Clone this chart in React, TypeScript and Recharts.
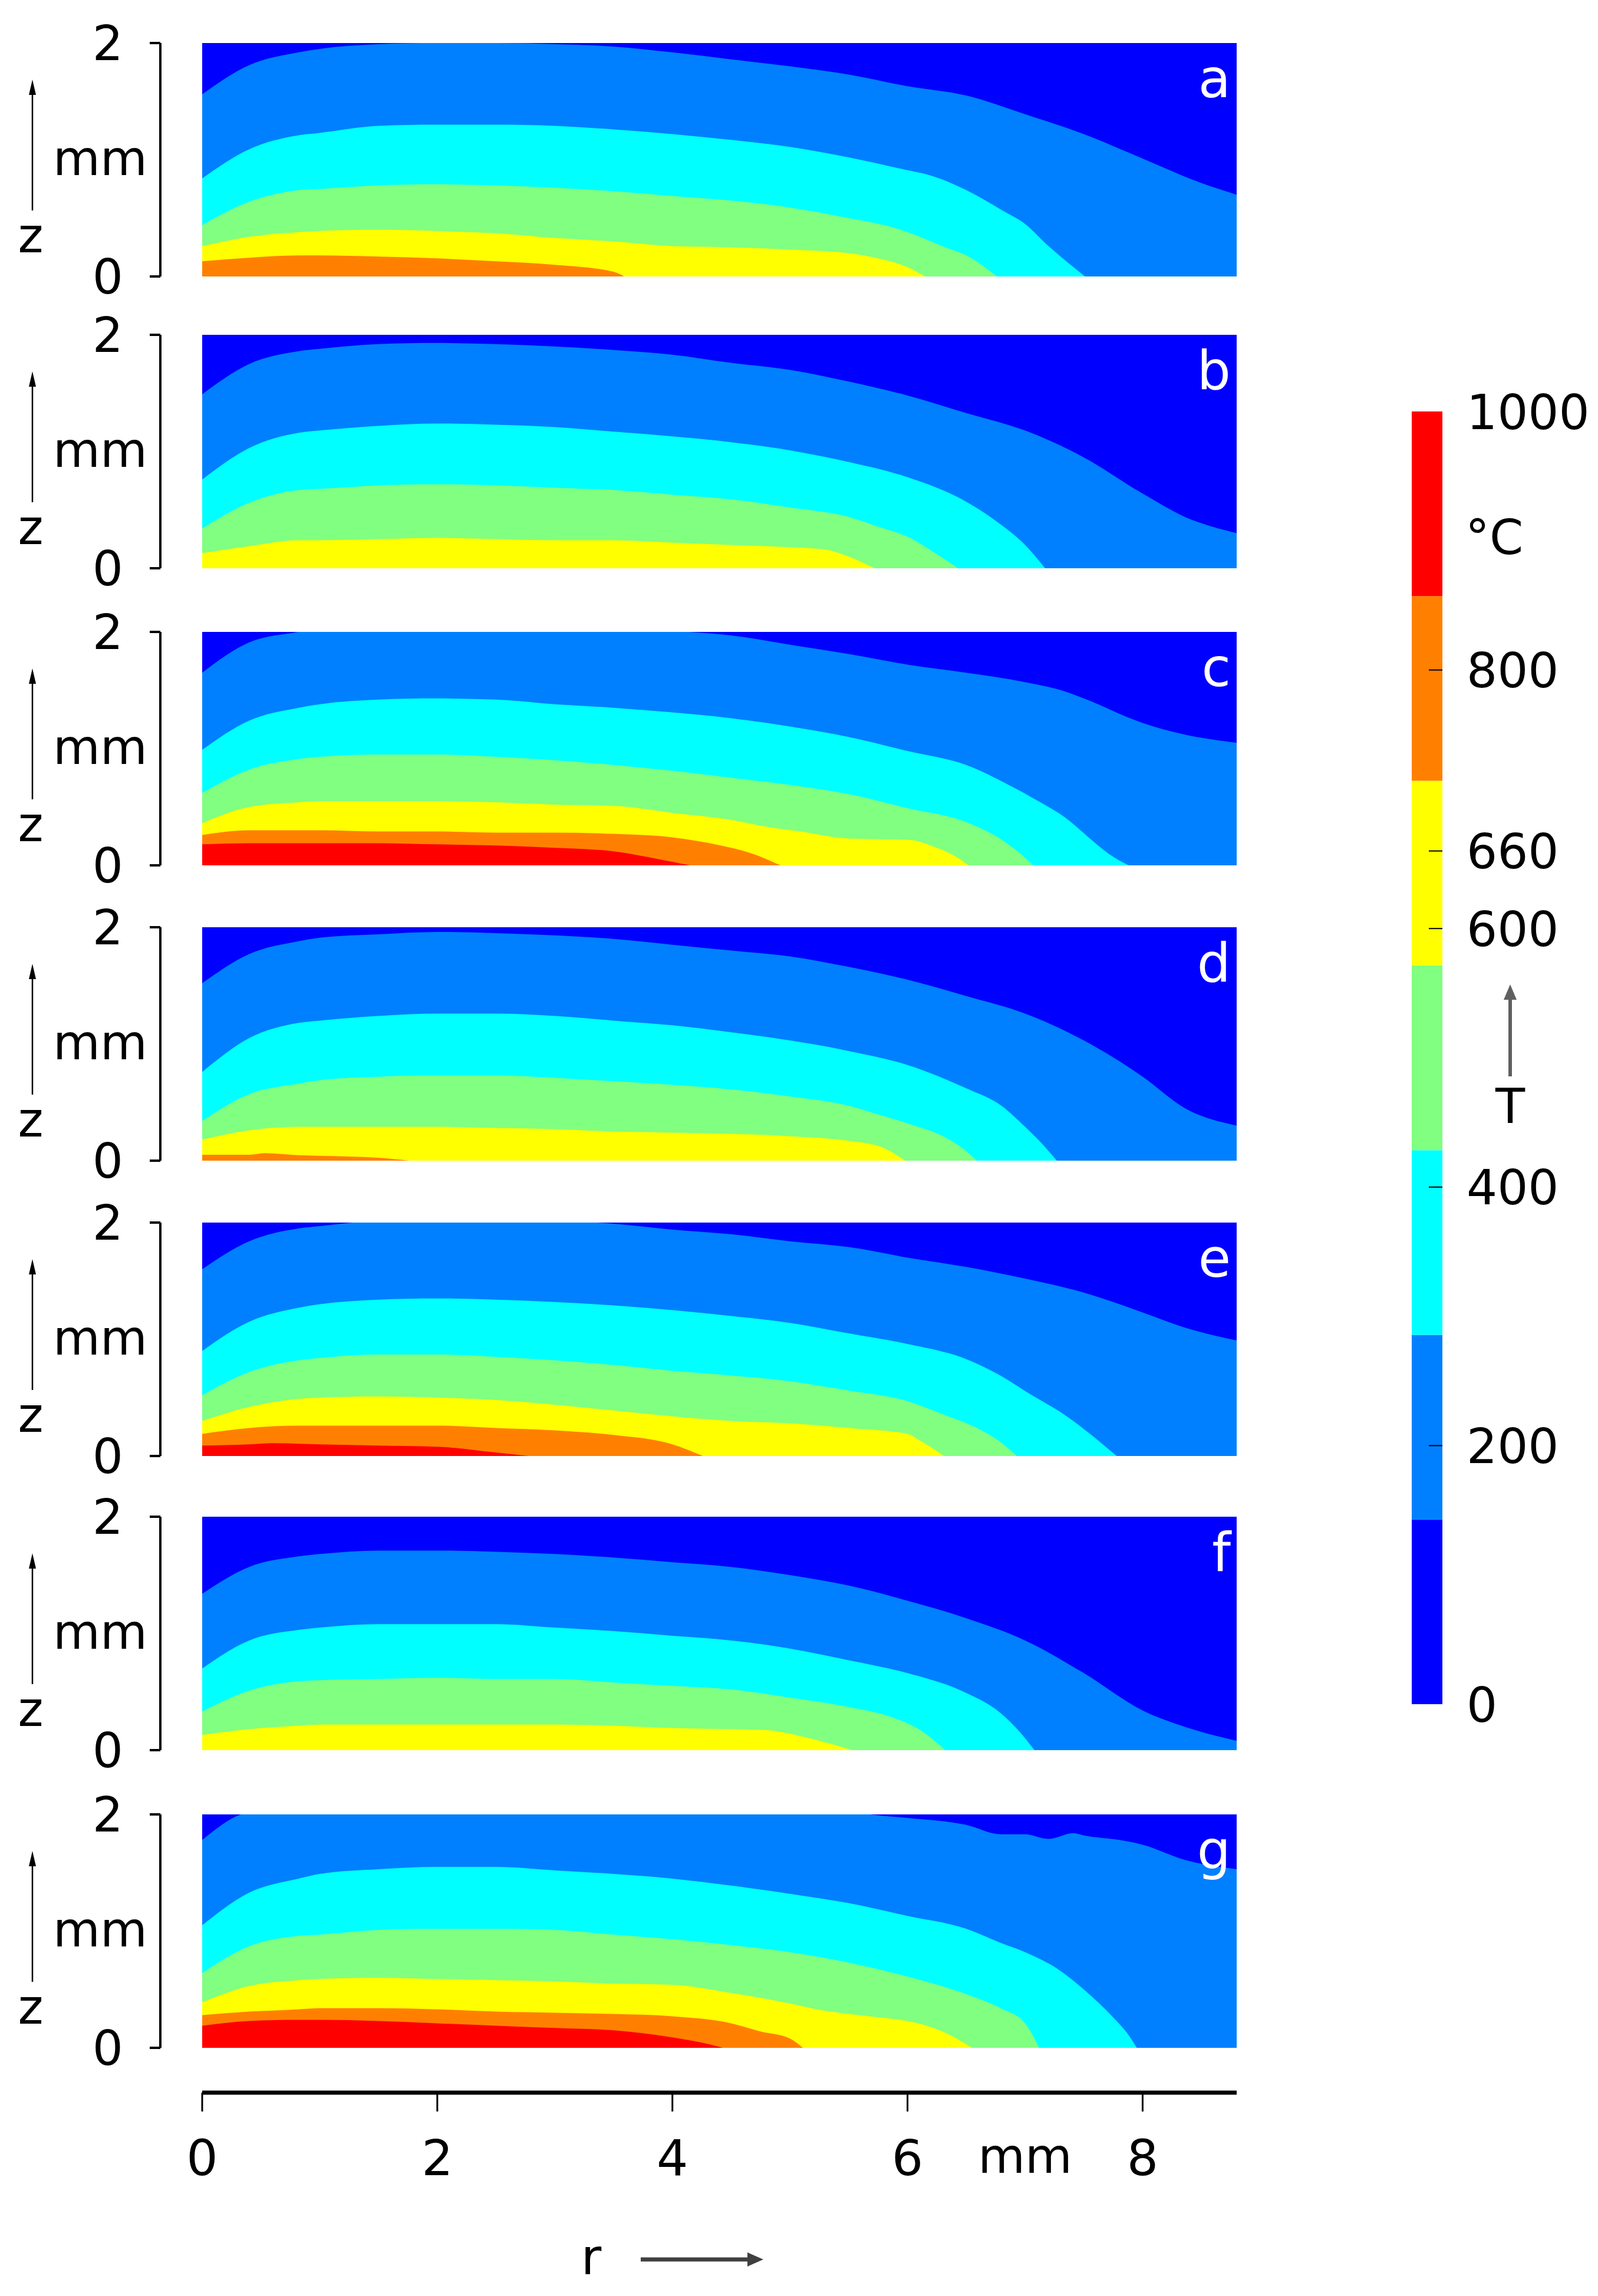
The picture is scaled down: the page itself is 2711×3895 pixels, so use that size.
import React from 'react';
import { ComposedChart, Area, XAxis, YAxis, CartesianGrid, BarChart, Bar } from 'recharts';

const FONT = '"DejaVu Sans", Verdana, sans-serif';

// 7-level jet palette, coldest first
const JET = ['#0000FF', '#0080FF', '#00FFFF', '#80FF80', '#FFFF00', '#FF8000', '#FF0000'];

// colour bar (°C)
const CB_LEVELS = [0, 142.86, 285.71, 428.57, 571.43, 714.29, 857.14, 1000];
const CB_TICKS = [0, 200, 400, 600, 660, 800, 1000];

// r axis (mm)
const R_TICKS = [0, 2, 4, 6, 8];
const R_UNIT_AT = 7;
const Z_TICKS = [0, 2];

type Pt = [number, number];

// isotherm heights z (mm) against r (mm); one list per colour boundary, warmer last
const A_ISO: Pt[][] = [
  [[0, 1.56], [0.4, 1.81], [0.82, 1.92], [1, 1.95], [1.5, 1.99], [2, 2.0], [2.5, 2.0], [3, 1.99], [3.5, 1.97], [4, 1.92], [4.5, 1.86], [5, 1.8], [5.5, 1.73], [6, 1.63], [6.5, 1.55], [7, 1.39], [7.5, 1.22], [8, 1.01], [8.5, 0.8], [8.8, 0.7]],
  [[0, 0.84], [0.4, 1.09], [0.82, 1.21], [1, 1.23], [1.5, 1.29], [2, 1.3], [2.5, 1.3], [3, 1.29], [3.5, 1.26], [4, 1.22], [4.5, 1.17], [5, 1.11], [5.5, 1.02], [6, 0.91], [6.18, 0.87], [6.5, 0.74], [6.8, 0.57], [7, 0.45], [7.2, 0.26], [7.51, 0]],
  [[0, 0.44], [0.4, 0.64], [0.82, 0.74], [1, 0.75], [1.5, 0.78], [2, 0.79], [2.5, 0.78], [3, 0.76], [3.5, 0.73], [4, 0.69], [4.5, 0.65], [5, 0.59], [5.5, 0.5], [5.84, 0.43], [6, 0.38], [6.32, 0.25], [6.5, 0.18], [6.76, 0]],
  [[0, 0.26], [0.4, 0.34], [0.82, 0.38], [1, 0.39], [1.5, 0.4], [2, 0.39], [2.5, 0.37], [3, 0.33], [3.5, 0.3], [4, 0.26], [4.5, 0.25], [5, 0.23], [5.5, 0.2], [5.77, 0.15], [6, 0.08], [6.15, 0]],
  [[0, 0.13], [0.4, 0.16], [0.82, 0.18], [1, 0.18], [1.5, 0.17], [2, 0.155], [2.5, 0.13], [3, 0.1], [3.5, 0.04], [3.59, 0]],
  [],
];

const B_ISO: Pt[][] = [
  [[0, 1.49], [0.4, 1.75], [0.82, 1.86], [1, 1.88], [1.5, 1.92], [2, 1.93], [2.5, 1.92], [3, 1.9], [3.5, 1.87], [4, 1.83], [4.5, 1.76], [5, 1.7], [5.5, 1.6], [6, 1.48], [6.5, 1.33], [7, 1.18], [7.5, 0.95], [8, 0.64], [8.36, 0.44], [8.8, 0.3]],
  [[0, 0.76], [0.4, 1.03], [0.82, 1.16], [1, 1.18], [1.5, 1.22], [2, 1.24], [2.5, 1.23], [3, 1.21], [3.5, 1.17], [4, 1.13], [4.5, 1.08], [5, 1.01], [5.5, 0.91], [6, 0.78], [6.5, 0.57], [6.8, 0.37], [7, 0.2], [7.17, 0]],
  [[0, 0.34], [0.4, 0.56], [0.82, 0.67], [1, 0.68], [1.5, 0.71], [2, 0.72], [2.5, 0.71], [3, 0.69], [3.5, 0.67], [4, 0.63], [4.5, 0.59], [5, 0.52], [5.5, 0.44], [5.77, 0.35], [6, 0.27], [6.25, 0.12], [6.43, 0]],
  [[0, 0.13], [0.4, 0.19], [0.82, 0.24], [1, 0.24], [1.5, 0.25], [2, 0.26], [2.5, 0.25], [3, 0.24], [3.5, 0.24], [4, 0.22], [4.5, 0.2], [5, 0.18], [5.3, 0.16], [5.5, 0.1], [5.72, 0]],
  [],
  [],
];

const C_ISO: Pt[][] = [
  [[0, 1.65], [0.4, 1.91], [0.82, 2.0], [1, 2.03], [1.5, 2.07], [2, 2.09], [2.5, 2.09], [3, 2.07], [3.5, 2.05], [4, 2.01], [4.5, 1.97], [5, 1.89], [5.5, 1.81], [6, 1.72], [6.5, 1.65], [7, 1.57], [7.34, 1.49], [7.5, 1.43], [8, 1.22], [8.36, 1.12], [8.8, 1.05]],
  [[0, 0.99], [0.4, 1.24], [0.82, 1.35], [1, 1.38], [1.5, 1.42], [2, 1.43], [2.5, 1.42], [3, 1.38], [3.5, 1.35], [4, 1.31], [4.5, 1.26], [5, 1.19], [5.5, 1.1], [6, 0.98], [6.5, 0.86], [6.86, 0.69], [7.13, 0.54], [7.34, 0.41], [7.54, 0.24], [7.71, 0.1], [7.88, 0]],
  [[0, 0.62], [0.4, 0.82], [0.82, 0.91], [1, 0.93], [1.5, 0.95], [2, 0.95], [2.5, 0.93], [3, 0.9], [3.5, 0.86], [4, 0.81], [4.5, 0.75], [5, 0.69], [5.5, 0.61], [6, 0.49], [6.5, 0.37], [6.8, 0.22], [6.96, 0.1], [7.07, 0]],
  [[0, 0.36], [0.4, 0.5], [0.82, 0.54], [1, 0.55], [1.5, 0.55], [2, 0.55], [2.5, 0.54], [3, 0.52], [3.5, 0.51], [4, 0.45], [4.5, 0.39], [4.75, 0.34], [5.09, 0.29], [5.5, 0.23], [6, 0.22], [6.25, 0.15], [6.42, 0.07], [6.52, 0]],
  [[0, 0.26], [0.4, 0.3], [0.82, 0.3], [1, 0.3], [1.5, 0.29], [2, 0.29], [2.5, 0.28], [3, 0.28], [3.5, 0.27], [4, 0.24], [4.41, 0.17], [4.68, 0.1], [4.92, 0]],
  [[0, 0.18], [0.4, 0.19], [0.82, 0.19], [1, 0.19], [1.5, 0.19], [2, 0.18], [2.5, 0.17], [3, 0.15], [3.5, 0.12], [3.8, 0.07], [4, 0.03], [4.15, 0]],
];

const D_ISO: Pt[][] = [
  [[0, 1.52], [0.4, 1.77], [0.82, 1.88], [1, 1.91], [1.5, 1.94], [2, 1.96], [2.5, 1.95], [3, 1.93], [3.5, 1.9], [4, 1.85], [4.5, 1.8], [5, 1.75], [5.5, 1.66], [6, 1.55], [6.5, 1.41], [7, 1.26], [7.5, 1.03], [8, 0.72], [8.36, 0.45], [8.8, 0.3]],
  [[0, 0.76], [0.4, 1.05], [0.82, 1.18], [1, 1.2], [1.5, 1.24], [2, 1.26], [2.5, 1.26], [3, 1.24], [3.5, 1.2], [4, 1.16], [4.5, 1.1], [5, 1.03], [5.5, 0.94], [6, 0.82], [6.5, 0.62], [6.8, 0.47], [7, 0.29], [7.14, 0.15], [7.27, 0]],
  [[0, 0.34], [0.4, 0.57], [0.82, 0.66], [1, 0.69], [1.5, 0.72], [2, 0.73], [2.5, 0.73], [3, 0.71], [3.5, 0.68], [4, 0.65], [4.5, 0.61], [5, 0.55], [5.5, 0.47], [5.77, 0.39], [6, 0.32], [6.32, 0.2], [6.45, 0.12], [6.59, 0]],
  [[0, 0.18], [0.4, 0.26], [0.82, 0.29], [1, 0.29], [1.5, 0.29], [2, 0.29], [2.5, 0.28], [3, 0.27], [3.5, 0.25], [4, 0.24], [4.5, 0.23], [5, 0.21], [5.5, 0.17], [5.77, 0.12], [5.98, 0]],
  [[0, 0.05], [0.4, 0.05], [0.53, 0.064], [0.82, 0.047], [1, 0.042], [1.5, 0.025], [1.76, 0]],
  [],
];

const E_ISO: Pt[][] = [
  [[0, 1.6], [0.4, 1.84], [0.82, 1.95], [1, 1.97], [1.28, 2.0], [1.5, 2.02], [2, 2.04], [2.5, 2.04], [3, 2.02], [3.5, 1.99], [4, 1.94], [4.5, 1.9], [5, 1.84], [5.5, 1.79], [6, 1.7], [6.5, 1.62], [7, 1.52], [7.5, 1.4], [8, 1.23], [8.36, 1.1], [8.8, 0.99]],
  [[0, 0.9], [0.4, 1.15], [0.82, 1.27], [1, 1.3], [1.5, 1.34], [2, 1.35], [2.5, 1.34], [3, 1.32], [3.5, 1.29], [4, 1.25], [4.5, 1.2], [5, 1.14], [5.5, 1.05], [6, 0.96], [6.5, 0.83], [6.79, 0.69], [7.06, 0.52], [7.34, 0.35], [7.54, 0.2], [7.78, 0]],
  [[0, 0.52], [0.4, 0.72], [0.82, 0.82], [1, 0.84], [1.5, 0.87], [2, 0.87], [2.5, 0.85], [3, 0.82], [3.5, 0.78], [4, 0.73], [4.5, 0.69], [5, 0.64], [5.5, 0.56], [6, 0.47], [6.32, 0.35], [6.59, 0.24], [6.79, 0.12], [6.93, 0]],
  [[0, 0.3], [0.4, 0.42], [0.82, 0.49], [1, 0.5], [1.5, 0.51], [2, 0.5], [2.5, 0.48], [3, 0.44], [3.5, 0.39], [4, 0.34], [4.5, 0.3], [5, 0.28], [5.5, 0.24], [6, 0.19], [6.11, 0.13], [6.31, 0]],
  [[0, 0.19], [0.4, 0.24], [0.82, 0.26], [1, 0.26], [1.5, 0.26], [2, 0.26], [2.5, 0.24], [3, 0.22], [3.5, 0.18], [4, 0.1], [4.26, 0]],
  [[0, 0.09], [0.4, 0.1], [0.6, 0.11], [1, 0.1], [1.5, 0.09], [2, 0.08], [2.5, 0.03], [2.78, 0]],
];

const F_ISO: Pt[][] = [
  [[0, 1.34], [0.4, 1.57], [0.82, 1.66], [1, 1.68], [1.5, 1.71], [2, 1.71], [2.5, 1.7], [3, 1.68], [3.5, 1.65], [4, 1.61], [4.5, 1.57], [5, 1.5], [5.5, 1.41], [6, 1.28], [6.5, 1.13], [7, 0.94], [7.5, 0.66], [8, 0.34], [8.36, 0.2], [8.8, 0.08]],
  [[0, 0.7], [0.4, 0.94], [0.82, 1.03], [1, 1.05], [1.5, 1.08], [2, 1.08], [2.5, 1.08], [3, 1.05], [3.5, 1.02], [4, 0.98], [4.5, 0.94], [5, 0.87], [5.5, 0.77], [6, 0.66], [6.5, 0.49], [6.79, 0.32], [6.96, 0.15], [7.08, 0]],
  [[0, 0.33], [0.4, 0.51], [0.82, 0.59], [1, 0.6], [1.5, 0.61], [2, 0.62], [2.5, 0.61], [3, 0.61], [3.5, 0.58], [4, 0.55], [4.5, 0.52], [5, 0.45], [5.5, 0.37], [5.84, 0.29], [6.11, 0.17], [6.32, 0]],
  [[0, 0.13], [0.4, 0.18], [0.82, 0.21], [1, 0.22], [1.5, 0.22], [2, 0.22], [2.5, 0.22], [3, 0.22], [3.5, 0.21], [4, 0.19], [4.5, 0.18], [4.82, 0.17], [5.09, 0.12], [5.36, 0.05], [5.53, 0]],
  [],
  [],
];

const G_ISO: Pt[][] = [
  [[0, 1.78], [0.33, 2.0], [0.4, 2.02], [0.82, 2.06], [1, 2.08], [1.5, 2.1], [2, 2.12], [2.5, 2.12], [3, 2.12], [3.5, 2.1], [4, 2.09], [4.5, 2.07], [5, 2.05], [5.5, 2.02], [5.77, 1.99], [6, 1.97], [6.5, 1.91], [6.79, 1.83], [7, 1.83], [7.2, 1.79], [7.41, 1.84], [7.5, 1.82], [7.81, 1.78], [8, 1.74], [8.36, 1.61], [8.8, 1.53]],
  [[0, 1.05], [0.4, 1.33], [0.82, 1.45], [1, 1.49], [1.5, 1.53], [2, 1.55], [2.5, 1.55], [3, 1.52], [3.5, 1.49], [4, 1.45], [4.5, 1.39], [5, 1.32], [5.5, 1.24], [6, 1.13], [6.5, 1.02], [6.79, 0.9], [7, 0.82], [7.27, 0.68], [7.5, 0.5], [7.75, 0.26], [7.88, 0.11], [7.95, 0]],
  [[0, 0.64], [0.4, 0.87], [0.82, 0.96], [1, 0.97], [1.5, 1.01], [2, 1.02], [2.5, 1.02], [3, 1.01], [3.5, 0.97], [4, 0.93], [4.5, 0.88], [5, 0.82], [5.5, 0.73], [6, 0.61], [6.5, 0.46], [6.79, 0.34], [7, 0.21], [7.12, 0]],
  [[0, 0.39], [0.4, 0.53], [0.82, 0.58], [1, 0.59], [1.5, 0.6], [2, 0.59], [2.5, 0.58], [3, 0.57], [3.5, 0.55], [4, 0.54], [4.5, 0.47], [5, 0.38], [5.23, 0.33], [5.5, 0.29], [5.77, 0.26], [6, 0.23], [6.32, 0.13], [6.55, 0]],
  [[0, 0.28], [0.4, 0.31], [0.82, 0.33], [1, 0.34], [1.5, 0.34], [2, 0.33], [2.5, 0.31], [3, 0.3], [3.5, 0.29], [4, 0.27], [4.5, 0.21], [4.75, 0.14], [5, 0.08], [5.11, 0]],
  [[0, 0.19], [0.4, 0.23], [0.82, 0.24], [1, 0.24], [1.5, 0.23], [2, 0.21], [2.5, 0.19], [3, 0.17], [3.5, 0.15], [4, 0.09], [4.27, 0.04], [4.43, 0]],
];

const PANEL_LETTERS = ['a', 'b', 'c', 'd', 'e', 'f', 'g'];
const PANEL_ISO = [A_ISO, B_ISO, C_ISO, D_ISO, E_ISO, F_ISO, G_ISO];

// layout (page pixels)
const PANEL_TOPS = [73, 568, 1072, 1573, 2074, 2573, 3078];
const PLOT_H = 396;
const CHART_W = 2120;
const PAD = 50;

// merge the per-boundary point lists into one table keyed by r
const toRows = (iso: Pt[][]) => {
  const byR = new Map<number, any>();
  iso.forEach((pts, k) =>
    pts.forEach(([r, z]) => {
      const row = byR.get(r) ?? { r };
      row[`t${k}`] = z;
      byR.set(r, row);
    })
  );
  return Array.from(byR.values()).sort((a, b) => a.r - b.r);
};

const Panel = ({ iso, top }: { iso: Pt[][]; top: number }) => {
  const rows = toRows(iso);
  return (
    <div style={{ position: 'absolute', left: 0, top: top - PAD }}>
      <ComposedChart width={CHART_W} height={PLOT_H + 2 * PAD} data={rows} margin={{ top: PAD, right: 22, bottom: PAD, left: 0 }}>
        <CartesianGrid xAxisId="r" yAxisId="z" horizontal={false} vertical={false} fill={JET[0]} fillOpacity={1} />
        <XAxis xAxisId="r" dataKey="r" type="number" domain={[0, 8.8]} allowDataOverflow hide />
        <YAxis yAxisId="gap" type="number" width={71} domain={[0, 2]} axisLine={false} tickLine={false} tick={false} />
        <YAxis
          yAxisId="z"
          type="number"
          width={272}
          domain={[0, 2]}
          ticks={Z_TICKS}
          interval={0}
          allowDataOverflow
          tickSize={18}
          tickMargin={45}
          axisLine={{ stroke: '#000', strokeWidth: 4 }}
          tickLine={{ stroke: '#000', strokeWidth: 4 }}
          tick={{ fill: '#000', fontSize: 82, fontFamily: FONT }}
        />
        {iso.map((pts, k) =>
          pts.length ? (
            <Area
              key={k}
              xAxisId="r"
              yAxisId="z"
              dataKey={`t${k}`}
              type="monotone"
              baseValue={0}
              fill={JET[k + 1]}
              fillOpacity={1}
              stroke="none"
              connectNulls
              isAnimationActive={false}
            />
          ) : null
        )}
      </ComposedChart>
    </div>
  );
};

const RTick = (props: any) => {
  const { x, y, payload } = props;
  const v = payload.value;
  if (v === R_UNIT_AT) {
    return (
      <text x={x} y={y + 136} textAnchor="middle" fontSize={82} fontFamily={FONT} fill="#000">
        mm
      </text>
    );
  }
  return (
    <g>
      <line x1={x} x2={x} y1={y} y2={y + 32} stroke="#000" strokeWidth={3} />
      <text x={x} y={y + 140} textAnchor="middle" fontSize={84} fontFamily={FONT} fill="#000">
        {v}
      </text>
    </g>
  );
};

const CbTick = (props: any) => {
  const { x, y, payload } = props;
  const v = payload.value;
  const inner = v !== CB_TICKS[0] && v !== CB_TICKS[CB_TICKS.length - 1];
  return (
    <g>
      {inner && <line x1={x - 23} x2={x} y1={y} y2={y} stroke="#000" strokeWidth={2} />}
      <text x={x + 41} y={y} dy="0.36em" textAnchor="start" fontSize={82} fontFamily={FONT} fill="#000">
        {v}
      </text>
    </g>
  );
};

const App = () => {
  const bandRow: any = { name: 'T' };
  CB_LEVELS.slice(1).forEach((v, i) => {
    bandRow[`b${i}`] = v - CB_LEVELS[i];
  });
  const axisRows = R_TICKS.map((r) => ({ r }));
  const rAxisTicks = [...R_TICKS, R_UNIT_AT].sort((a, b) => a - b);

  return (
    <div style={{ position: 'absolute', left: 0, top: 0, width: 2711, height: 3895, background: '#fff', overflow: 'hidden' }}>
      {PANEL_ISO.map((iso, i) => (
        <Panel key={i} iso={iso} top={PANEL_TOPS[i]} />
      ))}

      {/* shared r axis */}
      <div style={{ position: 'absolute', left: 0, top: 3530 }}>
        <ComposedChart width={CHART_W} height={220} data={axisRows} margin={{ top: 0, right: 22, bottom: 0, left: 343 }}>
          <XAxis
            dataKey="r"
            type="number"
            domain={[0, 8.8]}
            allowDataOverflow
            ticks={rAxisTicks}
            interval={0}
            height={200}
            tickSize={0}
            tickMargin={0}
            tickLine={false}
            axisLine={{ stroke: '#000', strokeWidth: 7 }}
            tick={RTick}
          />
          <YAxis hide domain={[0, 1]} />
        </ComposedChart>
      </div>

      {/* colour bar */}
      <div style={{ position: 'absolute', left: 2395, top: 648 }}>
        <BarChart width={368} height={2293} data={[bandRow]} margin={{ top: 50, right: 0, bottom: 50, left: 0 }} barCategoryGap={0}>
          <XAxis dataKey="name" hide />
          <YAxis
            orientation="right"
            type="number"
            width={316}
            domain={[0, 1000]}
            ticks={CB_TICKS}
            interval={0}
            axisLine={false}
            tickLine={false}
            tickSize={0}
            tickMargin={0}
            tick={CbTick}
          />
          {CB_LEVELS.slice(1).map((_, i) => (
            <Bar key={i} dataKey={`b${i}`} stackId="cb" fill={JET[i]} isAnimationActive={false} />
          ))}
        </BarChart>
      </div>

      {/* labels and arrows */}
      <svg width={2711} height={3895} style={{ position: 'absolute', left: 0, top: 0, pointerEvents: 'none' }}>
        {PANEL_TOPS.map((t, i) => (
          <g key={i}>
            <text x={170} y={t + 224} textAnchor="middle" fontSize={82} fontFamily={FONT} fill="#000">mm</text>
            <text x={52} y={t + 355} textAnchor="middle" fontSize={82} fontFamily={FONT} fill="#000">z</text>
            <line x1={55} x2={55} y1={t + 284} y2={t + 84} stroke="#000" strokeWidth={2.5} />
            <polygon points={`55,${t + 62} 49,${t + 88} 61,${t + 88}`} fill="#000" />
            <text x={2088} y={t + 92} textAnchor="end" fontSize={90} fontFamily={FONT} fill="#fff">{PANEL_LETTERS[i]}</text>
          </g>
        ))}
        <text x={1003} y={3858} textAnchor="middle" fontSize={84} fontFamily={FONT} fill="#000">r</text>
        <line x1={1087} x2={1272} y1={3833} y2={3833} stroke="#404040" strokeWidth={7} />
        <polygon points="1295,3833 1268,3821 1268,3845" fill="#404040" />
        <text x={2486} y={940} fontSize={82} fontFamily={FONT} fill="#000">°C</text>
        <line x1={2562} x2={2562} y1={1826} y2={1692} stroke="#606060" strokeWidth={6} />
        <polygon points="2562,1670 2551,1696 2573,1696" fill="#606060" />
        <text x={2562} y={1905} textAnchor="middle" fontSize={82} fontFamily={FONT} fill="#000">T</text>
      </svg>
    </div>
  );
};

export default App;
